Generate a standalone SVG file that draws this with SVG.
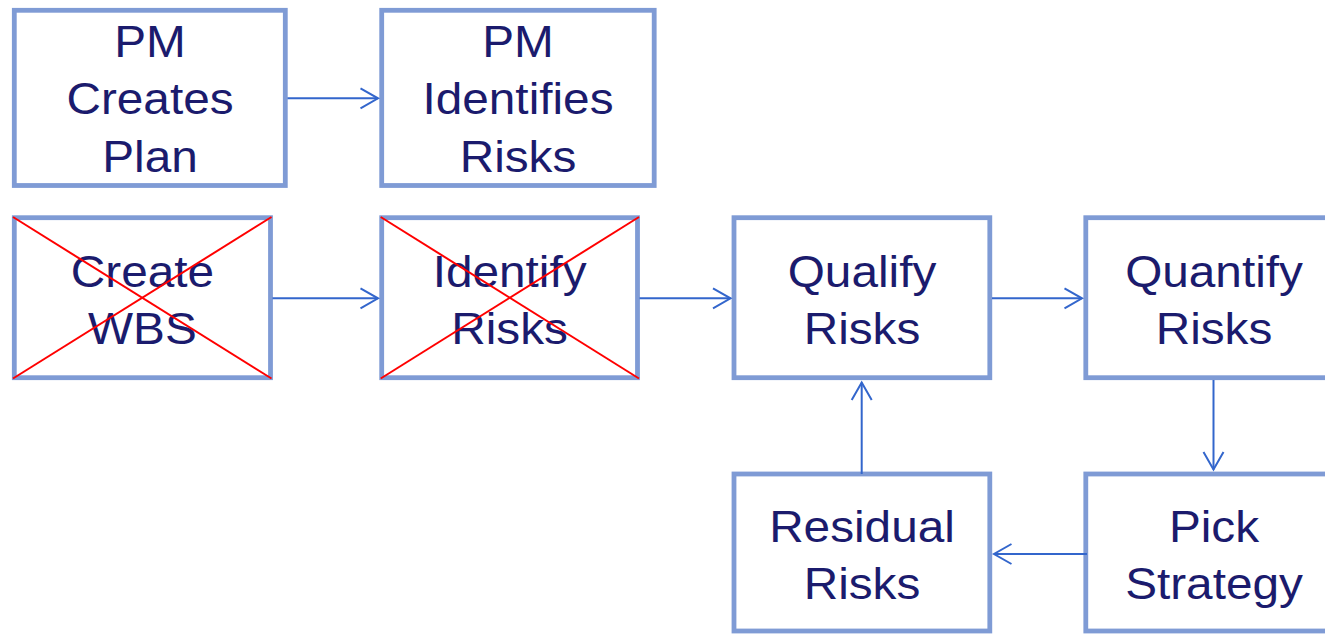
<svg xmlns="http://www.w3.org/2000/svg" width="1325" height="634" viewBox="0 0 1325 634">
<style>
.box{fill:#ffffff;stroke:#7f9bd5;stroke-width:4.8}
.lbl{font-family:"Liberation Sans",Arial,sans-serif;font-size:44px;fill:#1b1b6d;text-anchor:middle}
.conn{stroke:#3366cc;stroke-width:2;fill:none}
.cross{stroke:#ff0000;stroke-width:2;fill:none}
</style>
<defs>
<marker id="arr" markerUnits="userSpaceOnUse" markerWidth="22" markerHeight="24" viewBox="0 0 22 24" refX="19" refY="12" orient="auto">
<path d="M1.5,2 L19,12 L1.5,22" fill="none" stroke="#3366cc" stroke-width="2"/>
</marker>
</defs>
<rect width="1325" height="634" fill="#ffffff"/>
<g id="pm-creates-plan">
<rect class="box" x="14.3" y="10.3" width="271" height="175.2"/>
<g transform="translate(150 0) scale(1.085 1)">
<text class="lbl" x="0" y="57">PM</text>
<text class="lbl" x="0" y="114.5">Creates</text>
<text class="lbl" x="0" y="172">Plan</text>
</g>
</g>
<g id="pm-identifies-risks">
<rect class="box" x="381.7" y="10.3" width="272.5" height="175.2"/>
<g transform="translate(518 0) scale(1.085 1)">
<text class="lbl" x="0" y="57">PM</text>
<text class="lbl" x="0" y="114.5">Identifies</text>
<text class="lbl" x="0" y="172">Risks</text>
</g>
</g>
<g id="create-wbs">
<rect class="box" x="14.3" y="217.7" width="256.2" height="160"/>
<g transform="translate(142.4 0) scale(1.085 1)">
<text class="lbl" x="0" y="287.5">Create</text>
<text class="lbl" x="0" y="344.5">WBS</text>
</g>
<line class="cross" x1="13" y1="217" x2="271.5" y2="378.5"/>
<line class="cross" x1="13" y1="378.5" x2="271.5" y2="217"/>
</g>
<g id="identify-risks">
<rect class="box" x="381.7" y="217.7" width="255.8" height="160"/>
<g transform="translate(509.6 0) scale(1.085 1)">
<text class="lbl" x="0" y="287.5">Identify</text>
<text class="lbl" x="0" y="344.5">Risks</text>
</g>
<line class="cross" x1="380.7" y1="217" x2="639" y2="378.5"/>
<line class="cross" x1="380.7" y1="378.5" x2="639" y2="217"/>
</g>
<g id="qualify-risks">
<rect class="box" x="734" y="217.7" width="255.8" height="160"/>
<g transform="translate(862 0) scale(1.085 1)">
<text class="lbl" x="0" y="287.5">Qualify</text>
<text class="lbl" x="0" y="344.5">Risks</text>
</g>
</g>
<g id="quantify-risks">
<rect class="box" x="1085.8" y="217.7" width="256" height="160"/>
<g transform="translate(1214 0) scale(1.085 1)">
<text class="lbl" x="0" y="287.5">Quantify</text>
<text class="lbl" x="0" y="344.5">Risks</text>
</g>
</g>
<g id="pick-strategy">
<rect class="box" x="1085.8" y="474" width="256" height="157"/>
<g transform="translate(1214 0) scale(1.085 1)">
<text class="lbl" x="0" y="542">Pick</text>
<text class="lbl" x="0" y="599">Strategy</text>
</g>
</g>
<g id="residual-risks">
<rect class="box" x="734" y="474" width="255.8" height="157"/>
<g transform="translate(862 0) scale(1.085 1)">
<text class="lbl" x="0" y="542">Residual</text>
<text class="lbl" x="0" y="599">Risks</text>
</g>
</g>
<g id="connectors">
<line class="conn" x1="287.5" y1="98.3" x2="378" y2="98.3" marker-end="url(#arr)"/>
<line class="conn" x1="272.5" y1="298.3" x2="378" y2="298.3" marker-end="url(#arr)"/>
<line class="conn" x1="639.5" y1="298.3" x2="730.5" y2="298.3" marker-end="url(#arr)"/>
<line class="conn" x1="992" y1="298.3" x2="1082" y2="298.3" marker-end="url(#arr)"/>
<line class="conn" x1="1213.5" y1="380" x2="1213.5" y2="469.5" marker-end="url(#arr)"/>
<line class="conn" x1="1087" y1="554" x2="994" y2="554" marker-end="url(#arr)"/>
<line class="conn" x1="861.7" y1="474" x2="861.7" y2="382.5" marker-end="url(#arr)"/>
</g>
</svg>
